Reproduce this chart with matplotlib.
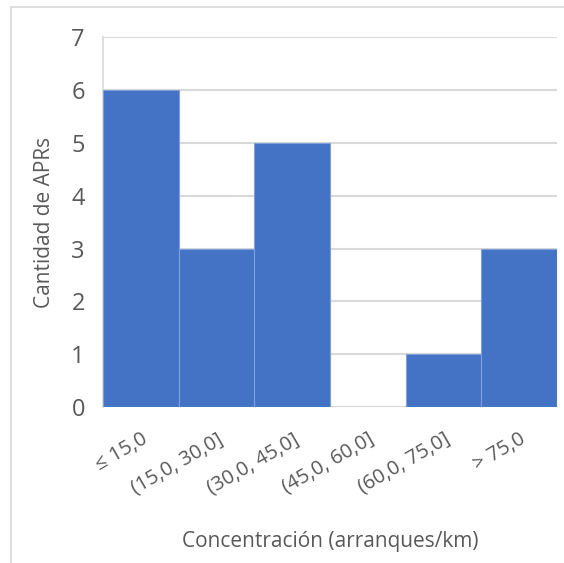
import matplotlib.pyplot as plt
from matplotlib.patches import Rectangle
import numpy as np

# Histogram bins and counts
bins = ["\u2264 15,0", "(15,0, 30,0]", "(30,0, 45,0]", "(45,0, 60,0]", "(60,0, 75,0]", "> 75,0"]
counts = [6, 3, 5, 0, 1, 3]

plt.rcParams['font.family'] = ['Open Sans', 'DejaVu Sans']
text_color = "#595959"
grid_color = "#D9D9D9"

fig = plt.figure(figsize=(5.64, 5.63), dpi=100)
ax = fig.add_axes([0.1826, 0.2771, 0.805, 0.6563])

x = np.arange(len(bins))
ax.bar(x, counts, width=1.0, color="#4472C4", edgecolor="#7FA0D8", linewidth=0.8, zorder=3)

ax.set_xlim(-0.5, len(bins) - 0.5)
ax.set_ylim(0, 7)
ax.set_yticks(range(0, 8))
ax.yaxis.grid(True, color=grid_color, linewidth=1.5, zorder=0)

ax.set_xticks(x)
ax.set_xticklabels(bins, rotation=30, ha="right", rotation_mode="anchor",
                   fontsize=14.5, color=text_color)
ax.tick_params(axis="x", length=0, pad=16)
ax.tick_params(axis="y", length=0, pad=13, labelsize=17, labelcolor=text_color)

for side in ["top", "right", "bottom"]:
    ax.spines[side].set_visible(False)
ax.spines["left"].set_color(grid_color)
ax.spines["left"].set_linewidth(1.2)

ax.set_ylabel("Cantidad de APRs", fontsize=15, color=text_color, labelpad=12)
ax.set_xlabel("Concentración (arranques/km)", fontsize=15, color=text_color, labelpad=24)

# chart frame
fig.patches.append(Rectangle((0.0195, -0.1), 1.2, 1.0876, transform=fig.transFigure,
                             fill=False, edgecolor="#D9D9D9", linewidth=1.2))

fig.savefig("out.png", dpi=100)
